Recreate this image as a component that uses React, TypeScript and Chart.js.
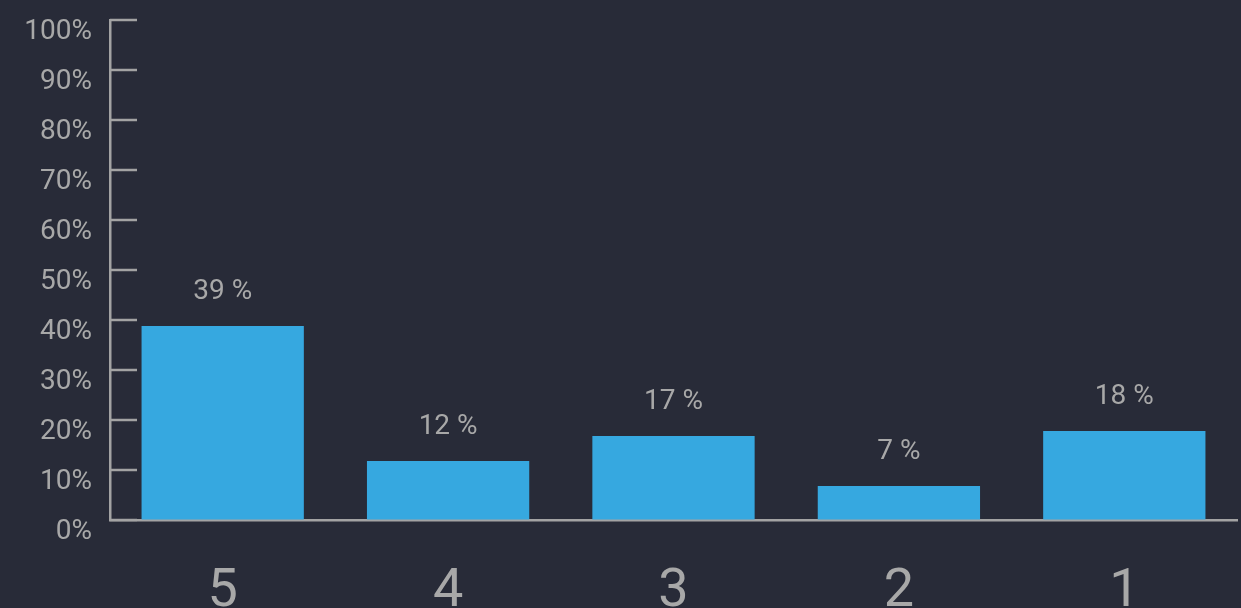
import React, { useEffect, useRef } from "react";
import { Chart, registerables } from "chart.js";

Chart.register(...registerables);

const categories = ["5", "4", "3", "2", "1"];
const values = [38.8, 11.8, 16.8, 6.8, 17.8];
const valueLabels = ["39 %", "12 %", "17 %", "7 %", "18 %"];
const yTicks = [0, 10, 20, 30, 40, 50, 60, 70, 80, 90, 100];

const BG = "#282b38";
const BAR = "#36a8e0";
const AXIS = "#a3a3a3";
const TEXT = "#a8a8a8";
const FONT = "Roboto";

const innerTicks = {
  id: "innerTicks",
  afterDatasetsDraw(chart: any) {
    const y = chart.scales.y;
    const ctx = chart.ctx;
    ctx.save();
    ctx.strokeStyle = AXIS;
    ctx.lineWidth = 2.5;
    yTicks.forEach((t) => {
      const py = y.getPixelForValue(t);
      ctx.beginPath();
      ctx.moveTo(chart.chartArea.left, py);
      ctx.lineTo(chart.chartArea.left + 27, py);
      ctx.stroke();
    });
    ctx.restore();
  },
};

const valueLabelPlugin = {
  id: "valueLabels",
  afterDatasetsDraw(chart: any) {
    const meta = chart.getDatasetMeta(0);
    const ctx = chart.ctx;
    ctx.save();
    ctx.fillStyle = TEXT;
    ctx.font = `28px ${FONT}`;
    ctx.textAlign = "center";
    ctx.textBaseline = "middle";
    meta.data.forEach((bar: any, i: number) => {
      ctx.fillText(valueLabels[i], bar.x, bar.y - 34);
    });
    ctx.restore();
  },
};

export default function App() {
  const ref = useRef<HTMLCanvasElement>(null);
  useEffect(() => {
    document.body.style.margin = "0";
    document.body.style.background = BG;
    const chart = new Chart(ref.current!, {
      type: "bar",
      data: {
        labels: categories,
        datasets: [
          {
            data: values,
            backgroundColor: BAR,
            borderWidth: 0,
            barPercentage: 0.72,
            categoryPercentage: 1,
          },
        ],
      },
      options: {
        animation: false,
        responsive: false,
        maintainAspectRatio: false,
        layout: { padding: { top: 20, right: 4, left: 0, bottom: 0 } },
        plugins: { legend: { display: false }, tooltip: { enabled: false } },
        scales: {
          x: {
            grid: { display: true, drawOnChartArea: false, drawTicks: false, color: "rgba(0,0,0,0)" },
            border: { display: true, color: AXIS, width: 2.5 },
            ticks: { color: TEXT, font: { family: FONT, size: 54 }, padding: 40 },
            afterFit(scale: any) {
              scale.height = 88;
              scale.paddingLeft = 0;
              scale.paddingRight = 0;
            },
          },
          y: {
            min: 0,
            max: 100,
            grid: { display: true, drawOnChartArea: false, drawTicks: false, color: "rgba(0,0,0,0)" },
            border: { display: true, color: AXIS, width: 2.5 },
            ticks: {
              stepSize: 10,
              color: TEXT,
              font: { family: FONT, size: 28 },
              padding: 18,
              labelOffset: 12,
              callback: (v: any) => `${v}%`,
            },
            afterFit(scale: any) {
              scale.width = 110;
              scale.paddingTop = 0;
              scale.paddingBottom = 0;
            },
          },
        },
      },
      plugins: [innerTicks, valueLabelPlugin],
    });
    return () => chart.destroy();
  }, []);
  return (
    <div style={{ width: 1241, height: 608, background: BG }}>
      <canvas ref={ref} width={1241} height={608} style={{ display: "block" }} />
    </div>
  );
}
